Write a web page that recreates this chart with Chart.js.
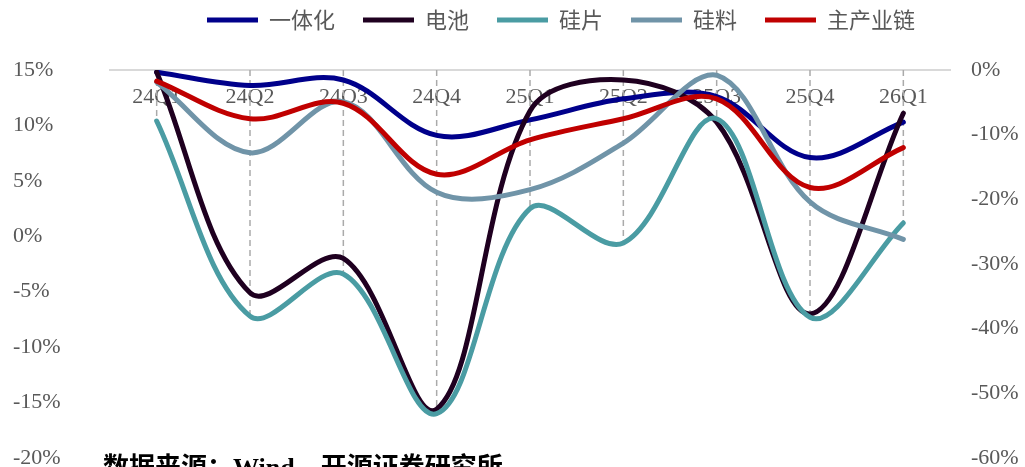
<!DOCTYPE html>
<html>
<head>
<meta charset="utf-8">
<script src="https://cdn.jsdelivr.net/npm/chart.js@4.4.1/dist/chart.umd.min.js"></script>
<style>
  body { margin: 0; background: #fff; }
  #wrap { position: relative; width: 1025px; height: 467px; overflow: hidden; }
  #source {
    position: absolute; left: 103px; top: 455px;
    font: bold 26px/1 'Liberation Serif', 'Noto Sans CJK SC', serif;
    color: #000; white-space: nowrap;
  }
</style>
</head>
<body>
<div id="wrap">
  <canvas id="chart" width="1025" height="467"></canvas>
  <div id="source">数据来源：Wind、开源证券研究所</div>
</div>
<script>
'use strict';

// ─── Data (%) ─────────────────────────────────────────────────────────────────

const quarters    = ['24Q1', '24Q2', '24Q3', '24Q4', '25Q1', '25Q2', '25Q3', '25Q4', '26Q1'];
const integrated  = [14.8, 13.6, 14.1, 9.1, 10.5, 12.4, 12.6, 7.1, 10.3];       // 一体化
const battery     = [14.8, -5.1, -2.0, -15.6, 11.3, 14.1, 10.3, -7.0, 11.1];    // 电池
const wafer       = [10.4, -7.2, -3.4, -16.0, 2.5, -0.6, 10.6, -7.3, 1.2];      // 硅片
const polysilicon = [-1.9, -12.8, -4.9, -18.9, -18.5, -11.3, -0.8, -20.4, -26.2]; // 硅料 (right axis)
const mainChain   = [14.0, 10.6, 12.0, 5.6, 8.7, 10.6, 12.4, 4.4, 8.0];         // 主产业链

const leftTicks  = [15, 10, 5, 0, -5, -10, -15, -20];
const rightTicks = [0, -10, -20, -30, -40, -50, -60];

const GREY_TEXT = '#595959';
const SERIF     = "'Liberation Serif', 'Times New Roman', serif";
const CJK       = "'Noto Sans CJK SC', sans-serif";

const LEGEND_SHIFT = 42;

// ─── Plugins ──────────────────────────────────────────────────────────────────

// dashed drop lines from the category axis down to the lowest left-axis point
const dropLines = {
  id: 'dropLines',
  beforeDatasetsDraw(chart) {
    const { ctx, chartArea } = chart;
    const metas = chart.getSortedVisibleDatasetMetas().filter(m => m.yAxisID === 'y');
    if (!metas.length) return;
    ctx.save();
    ctx.strokeStyle = '#aaaaaa';
    ctx.lineWidth = 1.5;
    ctx.setLineDash([6, 4]);
    quarters.forEach((_, i) => {
      const x = metas[0].data[i].x;
      const yEnd = Math.max(...metas.map(m => m.data[i].y));
      ctx.beginPath();
      ctx.moveTo(x, chartArea.top);
      ctx.lineTo(x, yEnd);
      ctx.stroke();
    });
    ctx.restore();
  },
};

// nudge the legend row to the right of centre
const legendShift = {
  id: 'legendShift',
  afterLayout(chart) {
    chart.legend.left  += LEGEND_SHIFT;
    chart.legend.right += LEGEND_SHIFT;
  },
};

// ─── Chart ────────────────────────────────────────────────────────────────────

function series(label, data, color, axis, order) {
  return {
    label,
    data,
    borderColor: color,
    backgroundColor: color,
    borderWidth: 5,
    borderCapStyle: 'round',
    pointRadius: 0,
    tension: 0.35,
    fill: false,
    yAxisID: axis,
    order,
  };
}

new Chart(document.getElementById('chart').getContext('2d'), {
  type: 'line',
  data: {
    labels: quarters,
    datasets: [
      series('一体化',   integrated,  '#00008b', 'y',  5),
      series('电池',     battery,     '#1f0020', 'y',  4),
      series('硅片',     wafer,       '#4a9ca3', 'y',  3),
      series('硅料',     polysilicon, '#7094a8', 'y1', 2),
      series('主产业链', mainChain,   '#c00000', 'y',  1),
    ],
  },
  options: {
    responsive: false,
    animation: false,
    layout: { padding: { top: -19, left: 13, right: 0, bottom: 9 } },
    plugins: {
      legend: {
        position: 'top',
        labels: {
          usePointStyle: true,
          pointStyle: 'line',
          pointStyleWidth: 51,
          padding: 28,
          color: GREY_TEXT,
          font: { family: CJK, size: 22 },
          sort: (a, b) => a.datasetIndex - b.datasetIndex,
        },
      },
      tooltip: { enabled: false },
    },
    scales: {
      x: {
        position: 'top',
        offset: true,
        grid: { display: false },
        border: { display: true, color: '#d9d9d9', width: 2 },
        ticks: {
          mirror: true,
          padding: 14,
          color: GREY_TEXT,
          font: { family: SERIF, size: 22 },
          maxRotation: 0,
        },
        afterFit: s => { s.height = 29; },
      },
      y: {
        position: 'left',
        min: -20,
        max: 15,
        afterBuildTicks: s => { s.ticks = leftTicks.map(v => ({ value: v })); },
        grid: { display: false },
        border: { display: false },
        ticks: {
          crossAlign: 'far',
          padding: 0,
          color: GREY_TEXT,
          font: { family: SERIF, size: 22, lineHeight: 0.8 },
          callback: v => v + '%',
        },
        afterFit: s => { s.width = 97; },
      },
      y1: {
        position: 'right',
        min: -60,
        max: 0,
        afterBuildTicks: s => { s.ticks = rightTicks.map(v => ({ value: v })); },
        // invisible tick marks set the gap between the plot and the labels
        grid: { display: true, drawOnChartArea: false, color: 'transparent', tickLength: 21 },
        border: { display: false },
        ticks: {
          padding: 0,
          color: GREY_TEXT,
          font: { family: SERIF, size: 22, lineHeight: 0.8 },
          callback: v => v + '%',
        },
        afterFit: s => { s.width = 75; },
      },
    },
  },
  plugins: [dropLines, legendShift],
});
</script>
</body>
</html>
